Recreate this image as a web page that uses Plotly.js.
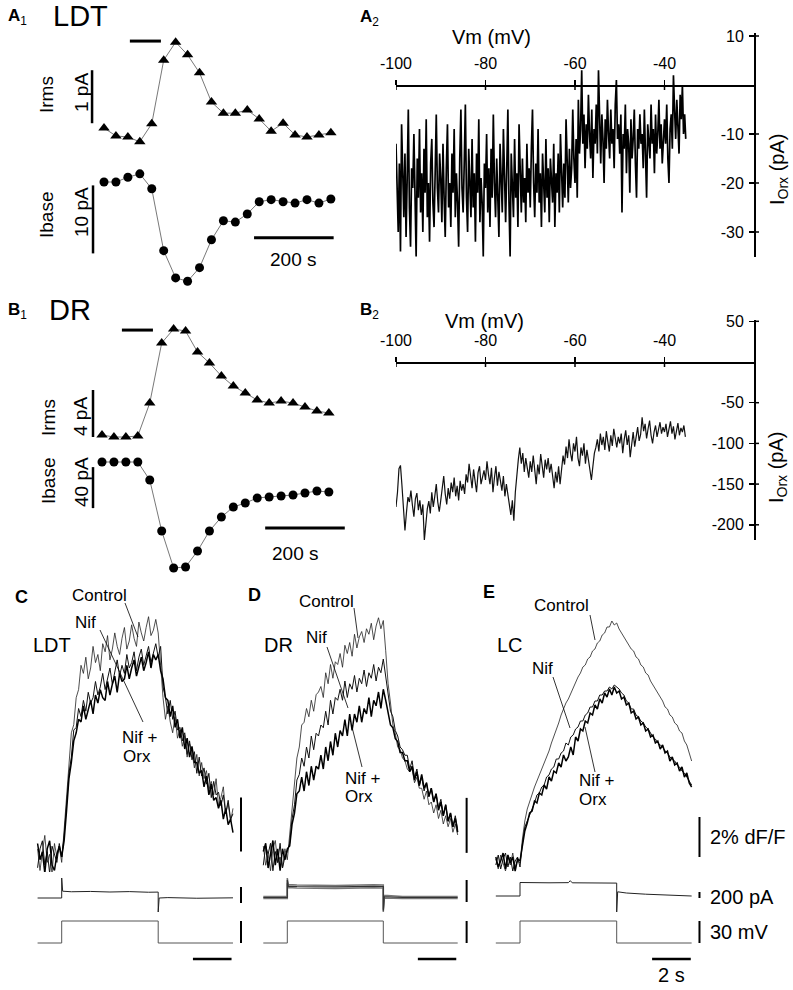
<!DOCTYPE html>
<html><head><meta charset="utf-8">
<script src="https://cdn.plot.ly/plotly-3.0.1.min.js"></script>
<style>html,body{margin:0;padding:0;background:#fff}#fig{width:793px;height:990px}</style>
</head><body><div id="fig"></div>
<script>
// ---------- DATA ----------
// A1 / B1: 30 s bins starting at t = 0 s
const irmsLDT  = [2.17,2.02,2.00,1.91,2.25,3.45,3.79,3.55,3.21,2.66,2.45,2.45,2.51,2.34,2.11,2.26,2.04,2.00,2.04,2.08];
const ibaseLDT = [-20.0,-20.0,-19.3,-18.8,-21.0,-30.1,-34.1,-34.6,-32.6,-28.5,-25.7,-25.9,-24.7,-22.9,-22.6,-22.9,-23.1,-22.6,-23.1,-22.5];
const irmsDR   = [3.17,3.00,3.00,3.09,5.89,11.00,12.19,12.02,10.23,9.30,8.19,7.34,6.74,6.15,5.89,6.06,5.89,5.55,5.21,5.04];
const ibaseDR  = [-50,-50,-50,-50,-67.6,-117.3,-153.4,-152.4,-136.8,-117.3,-103.7,-93.9,-90.0,-85.1,-84.1,-83.2,-82.2,-80.2,-78.3,-79.3];

// A2: I_Orx (pA) during ramp, Vm from -100 mV, 0.25 mV per sample
const a2Iorx = [
-12,-24,-30,-16,-34,-8,-22,-27,-14,-31,-19,-5,-25,-33,-17,-21,-10,-28,-35,-15,
-23,-9,-26,-18,-30,-13,-22,-7,-27,-20,-32,-16,-11,-24,-29,-18,-6,-21,-26,-14,
-19,-28,-12,-23,-31,-17,-8,-25,-20,-29,-14,-22,-9,-27,-18,-24,-33,-15,-5,-21,
-26,-16,-4,-23,-30,-13,-20,-27,-11,-25,-18,-32,-14,-22,-7,-28,-19,-24,-35,-16,
-21,-10,-26,-17,-29,-13,-23,-6,-20,-27,-15,-24,-31,-12,-19,-26,-9,-22,-28,-17,
-5,-24,-35,-14,-20,-27,-11,-23,-18,-29,-8,-21,-26,-15,-24,-19,-28,-12,-22,-17,
-25,-13,-5,-20,-27,-16,-22,-9,-24,-18,-29,-14,-21,-26,-11,-23,-17,-28,-15,-20,
-24,-12,-29,-18,-22,-14,-26,-10,-20,-25,-16,-23,-7,-19,-24,-13,-21,-17,-5,-15,
-20,-11,-23,-3,-14,-9,3,-12,-6,-17,-8,-13,-2,-10,-15,-5,-19,-9,-12,-4,
-14,3,-8,-16,-6,-11,-20,-7,-13,-3,-10,-15,-5,-12,-9,-17,-4,1,-11,-8,
-14,-6,-26,-10,-13,-4,-18,-9,-12,-22,-7,-15,-11,-5,-16,-23,-9,-13,-6,-12,
-10,-17,-5,-13,-23,-8,-11,-15,-4,-12,-9,-18,-6,-14,-10,-3,-13,-8,-16,-11,
-7,-12,-4,-15,-20,-9,-6,-13,2,-5,-11,-3,-8,-14,-2,-7,0,-10,-6,-11];

// B2: I_Orx (pA), Vm from -100 mV, 1/3 mV per sample
const b2Iorx = [
-178,-160,-131,-127,-152,-180,-207,-185,-166,-172,-158,-176,-190,-168,-161,
-182,-170,-188,-175,-219,-196,-180,-171,-186,-160,-178,-165,-150,-172,-184,
-170,-158,-140,-162,-175,-155,-168,-148,-160,-142,-165,-152,-170,-146,-158,
-150,-162,-138,-148,-125,-140,-155,-132,-145,-160,-136,-128,-150,-141,-133,
-145,-122,-138,-150,-130,-160,-142,-128,-152,-135,-146,-158,-140,-165,-150,
-165,-178,-188,-170,-195,-160,-138,-120,-105,-125,-112,-135,-118,-130,-142,
-122,-135,-115,-130,-150,-126,-138,-113,-128,-142,-120,-132,-118,-136,-125,
-140,-155,-135,-148,-128,-150,-132,-115,-126,-104,-118,-95,-112,-122,-100,
-110,-92,-118,-128,-105,-115,-100,-125,-108,-120,-135,-145,-128,-112,-105,
-95,-110,-88,-102,-92,-108,-85,-98,-110,-90,-103,-82,-96,-105,-92,
-100,-88,-112,-95,-84,-102,-90,-117,-98,-86,-104,-93,-80,-97,-89,
-68,-85,-76,-94,-82,-72,-90,-100,-86,-78,-92,-84,-74,-88,-80,
-86,-76,-92,-82,-73,-88,-79,-95,-84,-75,-90,-81,-86,-78,-92];

// C/D/E: dF/F (%), sampled every 0.125 s from t = -1.25 s (step 0..5 s)
const cControl = [0.3,-0.5,0.2,0.8,-0.2,0.1,-0.6,0.5,0.0,0.4, -0.2,1.0,2.4,3.3,4.6,4.9,5.9,6.2,7.1,6.8, 7.4,6.6,7.0,7.8,7.2,7.5,6.9,7.9,7.6,8.2, 7.3,7.7,8.3,7.8,7.5,8.1,8.5,7.7,8.0,8.6, 8.1,7.8,8.7,8.3,8.0,8.5,8.9,8.2,8.4,8.8, 8.3,7.1,5.9,5.1,5.6,5.0,4.6,5.2,4.4,4.7, 4.1,4.5,3.7,4.2,3.9,3.3,3.8,3.0,3.5,2.9, 3.2,2.5,2.8,2.3,2.9,1.9,2.2,2.6,1.6,2.0, 1.3,1.8];
const cNif     = [-0.4,0.3,0.6,-0.3,0.2,-0.6,0.4,0.1,-0.2,0.5, 0.0,0.8,1.9,3.1,3.7,4.7,4.8,5.5,5.2,5.8, 5.4,6.1,5.7,5.9,6.5,6.0,6.3,6.8,6.2,6.6, 7.0,6.4,6.9,7.3,6.7,7.1,6.8,7.5,7.0,7.2, 7.6,6.9,7.4,7.7,7.1,7.5,7.8,7.2,7.6,7.9, 7.4,7.8,6.3,5.9,5.3,5.8,5.1,5.4,4.7,4.8, 4.3,4.6,3.8,4.3,3.6,3.9,3.1,3.7,3.0,3.3, 2.7,3.1,2.2,2.8,2.3,2.4,1.9,2.3,1.6,2.1, 1.4,1.6];
const cNifOrx  = [0.5,-0.1,0.2,-0.6,0.3,0.6,-0.3,-0.5,0.1,0.4, 0.0,0.6,1.7,2.9,3.5,4.3,4.6,5.1,5.0,5.6, 5.1,5.5,5.8,5.3,6.0,5.7,6.2,5.9,5.8,6.5, 6.0,6.4,6.7,6.1,6.8,6.5,6.6,7.1,6.6,7.0, 7.3,6.7,7.1,7.4,6.9,7.2,7.6,7.0,7.5,7.3, 7.5,6.9,6.6,5.9,5.8,5.2,5.6,4.8,5.1,4.4, 4.8,4.0,4.4,3.7,4.1,3.5,3.5,3.1,3.2,2.6, 3.0,2.3,2.7,2.1,2.2,1.8,2.1,1.4,1.8,1.2, 1.4,0.9];
const dControl = [0.4,-0.3,0.1,-0.5,0.3,0.6,-0.2,0.0,-0.4,0.3, -0.1,0.8,1.9,2.6,3.6,4.0,4.8,4.9,5.4,5.1, 5.7,5.3,5.9,6.0,6.2,5.8,6.7,6.3,7.0,6.5, 7.1,7.0,7.4,6.9,7.7,7.4,7.8,7.3,8.1,7.6, 8.0,8.2,7.8,8.3,8.1,8.5,7.9,8.4,8.7,8.3, 8.6,7.5,6.3,5.6,4.8,4.5,4.0,3.9,3.6,3.5, 3.2,3.1,3.2,2.7,2.9,2.5,2.5,2.1,2.4,1.9, 2.0,1.6,1.9,1.4,1.7,1.2,1.5,1.1,1.4,0.9, 1.2,0.8];
const dNif     = [-0.3,0.4,0.1,0.5,-0.5,0.2,-0.2,0.5,-0.4,0.0, 0.2,0.5,1.4,1.9,2.8,3.0,3.6,3.3,4.0,3.6, 4.4,3.9,4.5,4.4,4.8,4.7,5.3,4.8,5.7,5.2, 5.8,5.7,6.1,5.7,6.4,5.8,6.3,6.1,6.6,6.0, 6.5,6.3,6.8,6.2,6.7,6.5,7.0,6.4,6.9,6.7, 7.2,6.5,5.8,5.3,5.1,4.6,4.4,4.0,3.9,3.7, 3.7,3.2,3.5,2.9,3.2,2.6,2.9,2.4,2.7,2.2, 2.5,2.0,2.3,1.8,2.1,1.5,1.9,1.3,1.6,1.1, 1.5,1.0];
const dNifOrx  = [0.2,0.5,-0.4,0.1,0.6,-0.3,0.3,-0.5,0.3,-0.1, 0.3,0.4,1.2,1.6,2.3,2.4,2.9,2.4,3.1,2.6, 3.3,2.8,3.3,3.2,3.7,3.2,4.0,3.5,4.2,3.7, 4.5,4.0,4.6,4.4,5.0,4.4,5.2,4.6,5.2,4.9, 5.5,4.9,5.4,5.2,5.8,5.1,5.7,5.5,6.0,5.4, 6.1,5.7,5.3,4.8,4.7,4.3,4.2,3.8,3.8,3.5, 3.5,3.1,3.3,2.8,3.1,2.6,3.0,2.5,2.7,2.2, 2.5,2.0,2.3,1.7,2.0,1.5,1.9,1.3,1.6,1.1, 1.4,0.9];
const eControl = [0.2,-0.3,0.4,0.0,-0.4,0.3,-0.1,0.5,-0.2,0.1, 0.0,1.2,2.1,2.7,3.1,3.5,3.8,4.1,4.4,4.7, 5.0,5.3,5.6,6.0,6.3,6.7,7.0,7.4,7.7,8.0, 8.2,8.5,8.7,9.0,9.3,9.5,9.8,9.9,10.2,10.3, 10.6,10.7,11.0,11.1,11.4,11.5,11.8,11.8,12.1,11.9, 12.0,11.7,11.5,11.3,11.1,10.9,10.7,10.6,10.3,10.2, 9.9,9.8,9.5,9.4,9.1,8.9,8.7,8.5,8.3,8.1, 7.8,7.7,7.4,7.3,7.0,6.9,6.6,6.5,6.1,5.9, 5.5,5.1];
const eNif     = [-0.1,0.4,-0.3,0.2,0.5,-0.2,0.3,-0.4,0.1,0.3, -0.2,1.0,1.8,2.1,2.4,2.8,3.0,3.4,3.5,3.8, 3.9,4.3,4.4,4.7,4.8,5.2,5.2,5.5,5.6,6.0, 5.9,6.3,6.4,6.7,6.8,7.1,7.1,7.4,7.5,7.8, 7.8,8.1,8.1,8.4,8.4,8.6,8.6,8.8,8.7,8.9, 8.8,8.7,8.5,8.4,8.1,8.0,7.7,7.7,7.4,7.3, 7.1,7.0,6.8,6.7,6.5,6.3,6.2,6.0,5.9,5.8, 5.6,5.5,5.3,5.2,5.1,4.9,4.8,4.6,4.5,4.3, 4.1,3.9];
const eNifOrx  = [0.3,-0.2,0.1,0.5,-0.3,0.4,0.0,0.3,-0.4,0.2, 0.1,0.8,1.6,2.0,2.5,2.6,3.1,3.0,3.5,3.4, 3.9,3.7,4.3,4.1,4.6,4.5,5.0,4.8,5.4,5.1, 5.3,5.8,5.4,6.3,6.1,6.7,6.6,7.1,7.0,7.5, 7.4,7.9,7.7,8.2,8.0,8.5,8.3,8.7,8.4,8.8, 8.5,8.6,8.2,8.3,7.9,8.0,7.5,7.6,7.2,7.3, 6.9,7.0,6.6,6.7,6.3,6.4,6.0,6.1,5.7,5.9, 5.5,5.6,5.1,5.3,4.9,5.0,4.6,4.8,4.3,4.5, 4.0,3.8];

// Holding current (pA) and command voltage (mV)
const cCurT = [-1.25,-0.6,0,0,0.05,0.5,1.5,2.5,3.5,4.5,5,5,5.05,5.5,7,8.875];
const cCurI = [0,3,0,250,85,78,82,75,80,72,74,-175,0,5,-3,2];
const dCurT = [-1.25,0,0,0.05,0.5,2.5,4.5,5,5,5.05,6,8.875];
const dCur1 = [10,10,177,118,114,110,116,114,-132,20,10,10];
const dCur2 = [0,0,160,104,100,96,102,100,-120,8,0,0];
const dCur3 = [-10,-10,130,90,86,82,88,86,-110,-4,-10,-10];
const eCurT = [-1.25,0,0,0.3,1.5,2.5,2.6,2.7,3.5,5,5,5.05,5.5,6.5,8.875];
const eCurI = [0,0,450,445,440,445,510,440,435,430,-533,140,100,60,0];
const stepT = [-1.25,0,0,5,5,8.875];
const stepV = [-70,-70,-40,-40,-70,-70];

// Axis ticks
const vmTicks = [-100,-80,-60,-40];
const vmTickText = ['-100','-80','-60','-40'];
const a2Ticks = [10,-10,-20,-30];
const a2TickText = ['10','-10','-20','-30'];
const b2Ticks = [50,-50,-100,-150,-200];
const b2TickText = ['50','-50','-100','-150','-200'];

// ---------- LAYOUT ----------
const W=793,H=990;
const FONT='Liberation Sans, Arial, Helvetica, sans-serif';
const L={width:W,height:H,margin:{l:0,r:0,t:0,b:0,pad:0},paper_bgcolor:'#fff',plot_bgcolor:'rgba(0,0,0,0)',
  showlegend:false,font:{family:FONT,color:'#000'},annotations:[],shapes:[],hovermode:false};
const xN=n=>n===1?'x':'x'+n, yN=n=>n===1?'y':'y'+n;
const xK=n=>n===1?'xaxis':'xaxis'+n, yK=n=>n===1?'yaxis':'yaxis'+n;
const hidden={visible:false,fixedrange:true,showgrid:false,zeroline:false};
function mkX(n,a,b,ref,val,k,ay,extra){L[xK(n)]=Object.assign({},hidden,{domain:[a/W,b/W],range:[val+(a-ref)/k,val+(b-ref)/k],anchor:yN(ay)},extra||{});}
function mkY(n,top,bot,ref,val,k,ax,extra){L[yK(n)]=Object.assign({},hidden,{domain:[1-bot/H,1-top/H],range:[val-(bot-ref)/k,val+(ref-top)/k],anchor:xN(ax)},extra||{});}
function txt(t,x,y,size,o){L.annotations.push(Object.assign({text:t,xref:'paper',yref:'paper',x:x/W,y:1-y/H,showarrow:false,xanchor:'center',yanchor:'middle',font:{size:size,family:FONT,color:'#000'}},o||{}));}
function pline(x0,y0,x1,y1,w){L.shapes.push({type:'line',xref:'paper',yref:'paper',x0:x0/W,y0:1-y0/H,x1:x1/W,y1:1-y1/H,line:{color:'#000',width:w||0.8}});}
function dline(xa,ya,x0,y0,x1,y1,w){L.shapes.push({type:'line',xref:xN(xa),yref:yN(ya),x0:x0,y0:y0,x1:x1,y1:y1,line:{color:'#000',width:w}});}
function innerXTicks(xa,vals,pyLine){vals.forEach(v=>L.shapes.push({type:'line',xref:xN(xa),yref:'paper',x0:v,x1:v,y0:1-pyLine/H,y1:1-(pyLine+5)/H,line:{color:'#000',width:1.5}}));}
function innerYTicks(ya,vals,pxLine){vals.forEach(v=>L.shapes.push({type:'line',xref:'paper',yref:yN(ya),x0:pxLine/W,x1:(pxLine+5)/W,y0:v,y1:v,line:{color:'#000',width:1.5}}));}

const visAxis={visible:true,showline:true,linecolor:'#000',linewidth:1.5,ticks:'outside',ticklen:5,tickwidth:1.5,tickcolor:'#000',
  tickmode:'array',tickfont:{size:16,family:FONT,color:'#000'},showgrid:false,zeroline:false,fixedrange:true};

mkX(1,60,360,104,0,0.398,1);
mkY(1,25,155,137,2.0,53,1);
mkY(2,155,300,182,-20,6.8,1);
mkX(2,396,754,396,-100,4.475,3,Object.assign({},visAxis,{anchor:'free',position:1-85/H,side:'top',tickvals:vmTicks,ticktext:vmTickText,ticklabelstandoff:5}));
mkY(3,33,257,85,0,4.9,2,Object.assign({},visAxis,{anchor:'free',position:754/W,side:'left',tickvals:a2Ticks,ticktext:a2TickText,ticklabelstandoff:2}));
innerXTicks(2,vmTicks,85); innerYTicks(3,a2Ticks,754);
mkX(3,60,360,102,0,0.398,4);
mkY(4,315,445,437,3.0,11.75,3);
mkY(5,445,580,462,-50,1.025,3);
mkX(4,396,754,396,-100,4.475,6,Object.assign({},visAxis,{anchor:'free',position:1-362/H,side:'top',tickvals:vmTicks,ticktext:vmTickText,ticklabelstandoff:5}));
mkY(6,320,540,362,0,0.814,4,Object.assign({},visAxis,{anchor:'free',position:754/W,side:'left',tickvals:b2Ticks,ticktext:b2TickText,ticklabelstandoff:2}));
innerXTicks(4,vmTicks,362); innerYTicks(6,b2Ticks,754);
mkX(5,30,252,61.7,0,19.3,7);
mkY(7,570,872,857,0,27,5);
mkY(8,866,916,898,0,0.08,5);
mkY(9,912,972,943,-70,0.7333,5);
mkX(6,255,478,287.3,0,19.2,10);
mkY(10,570,872,857,0,27.5,6);
mkY(11,866,916,897.5,0,0.11,6);
mkY(12,912,972,943,-70,0.7333,6);
mkX(7,488,712,520,0,19.34,13);
mkY(13,570,872,863,0,20,7);
mkY(14,866,916,896,0,0.03,7);
mkY(15,912,972,943,-70,0.7333,7);

// ---------- TRACES ----------
const T=[];
const base={hoverinfo:'skip',showlegend:false,cliponaxis:false};
function add(o){T.push(Object.assign({},base,o));}
add({x0:0,dx:30,y:irmsLDT,xaxis:'x',yaxis:'y',mode:'lines+markers',line:{color:'#555',width:0.8},marker:{symbol:'triangle-up',size:10,color:'#000'}});
add({x0:0,dx:30,y:ibaseLDT,xaxis:'x',yaxis:'y2',mode:'lines+markers',line:{color:'#555',width:0.8},marker:{symbol:'circle',size:9,color:'#000'}});
add({x0:0,dx:30,y:irmsDR,xaxis:'x3',yaxis:'y4',mode:'lines+markers',line:{color:'#555',width:0.8},marker:{symbol:'triangle-up',size:10,color:'#000'}});
add({x0:0,dx:30,y:ibaseDR,xaxis:'x3',yaxis:'y5',mode:'lines+markers',line:{color:'#555',width:0.8},marker:{symbol:'circle',size:9,color:'#000'}});
add({x0:-100,dx:0.25,y:a2Iorx,xaxis:'x2',yaxis:'y3',mode:'lines',line:{color:'#000',width:1.7}});
add({x0:-100,dx:1/3,y:b2Iorx,xaxis:'x4',yaxis:'y6',mode:'lines',line:{color:'#111',width:1.2}});
const panels=[[5,7,8,9,cControl,cNif,cNifOrx],[6,10,11,12,dControl,dNif,dNifOrx],[7,13,14,15,eControl,eNif,eNifOrx]];
panels.forEach(p=>{
  add({x0:-1.25,dx:0.125,y:p[4],xaxis:xN(p[0]),yaxis:yN(p[1]),mode:'lines',line:{color:'#222',width:0.8}});
  add({x0:-1.25,dx:0.125,y:p[5],xaxis:xN(p[0]),yaxis:yN(p[1]),mode:'lines',line:{color:'#111',width:1.0}});
  add({x0:-1.25,dx:0.125,y:p[6],xaxis:xN(p[0]),yaxis:yN(p[1]),mode:'lines',line:{color:'#000',width:1.5}});
  add({x:stepT,y:stepV,xaxis:xN(p[0]),yaxis:yN(p[3]),mode:'lines',line:{color:'#555',width:1}});
});
add({x:cCurT,y:cCurI,xaxis:'x5',yaxis:'y8',mode:'lines',line:{color:'#222',width:1}});
add({x:dCurT,y:dCur1,xaxis:'x6',yaxis:'y11',mode:'lines',line:{color:'#777',width:1.5}});
add({x:dCurT,y:dCur3,xaxis:'x6',yaxis:'y11',mode:'lines',line:{color:'#777',width:1.5}});
add({x:dCurT,y:dCur2,xaxis:'x6',yaxis:'y11',mode:'lines',line:{color:'#333',width:1.2}});
add({x:eCurT,y:eCurI,xaxis:'x7',yaxis:'y14',mode:'lines',line:{color:'#222',width:1}});

// ---------- SCALE BARS ----------
dline(1,1,65,3.81,143,3.81,3);
dline(1,1,-30,2.26,-30,3.26,2.5);
dline(1,2,-27.6,-20.5,-27.6,-30.5,2.5);
dline(1,2,377,-28.2,577,-28.2,3);
dline(3,4,50,12.1,128,12.1,3);
dline(3,4,-22.6,3.0,-22.6,7.0,2.5);
dline(3,5,-22.6,-55,-22.6,-95,2.5);
dline(3,5,410,-114.4,610,-114.4,3);
dline(5,7,9.29,0.2,9.29,2.2,2); dline(5,8,9.29,-62,9.29,138,2); dline(5,9,9.29,-70,9.29,-40,2); dline(5,9,6.8,-91.8,8.8,-91.8,2.5);
dline(6,10,9.34,0.15,9.34,2.15,2); dline(6,11,9.34,-41,9.34,159,2); dline(6,12,9.34,-70,9.34,-40,2); dline(6,12,6.8,-91.8,8.8,-91.8,2.5);
dline(7,13,9.28,0.3,9.28,2.3,2); dline(7,14,9.28,-67,9.28,133,2); dline(7,15,9.28,-70,9.28,-40,2); dline(7,15,6.83,-91.8,8.83,-91.8,2.5);

// ---------- TEXT ----------
const rot={textangle:-90};
txt('<b>A</b><sub>1</sub>',6,17,17,{xanchor:'left'});
txt('LDT',80,16,29);
txt('<b>A</b><sub>2</sub>',358,18,17,{xanchor:'left'});
txt('<b>B</b><sub>1</sub>',6,311,17,{xanchor:'left'});
txt('DR',70,310,29);
txt('<b>B</b><sub>2</sub>',358,311,17,{xanchor:'left'});
txt('Irms',47,95,19,rot); txt('1 pA',81,93,19,rot);
txt('Ibase',47,215,19,rot); txt('10 pA',81,212,19,rot);
txt('200 s',293,259,19);
txt('Irms',48,418,19,rot); txt('4 pA',81,417,19,rot);
txt('Ibase',48,481,19,rot); txt('40 pA',81,482,19,rot);
txt('200 s',295,553,19);
txt('Vm (mV)',491,37,20); txt('I<sub>Orx</sub> (pA)',778,170,20,rot);
txt('Vm (mV)',484,321,20); txt('I<sub>Orx</sub> (pA)',778,468,20,rot);
txt('<b>C</b>',21,597,18); txt('<b>D</b>',254,595,18); txt('<b>E</b>',489,592,18);
txt('Control',99,595,17); txt('Nif',85,622,17); txt('LDT',52,645,20);
txt('Nif +',120,737,17,{xanchor:'left'}); txt('Orx',121,756,17,{xanchor:'left'});
pline(125,603,138,637); pline(100,630,143,722);
txt('Control',326,601,17); txt('Nif',316,637,17); txt('DR',278,645,20);
txt('Nif +',343,778,17,{xanchor:'left'}); txt('Orx',343,796,17,{xanchor:'left'});
pline(354,608,358,638); pline(327,647,348,708); pline(362,767,352,727);
txt('Control',561,605,17); txt('Nif',542,668,17); txt('LC',510,645,20);
txt('Nif +',577,780,17,{xanchor:'left'}); txt('Orx',577,799,17,{xanchor:'left'});
pline(590,615,595,640); pline(553,677,570,728); pline(595,772,585,727);
txt('2% dF/F',708,837,20,{xanchor:'left'});
txt('200 pA',708,897,20,{xanchor:'left'});
txt('30 mV',708,932,20,{xanchor:'left'});
txt('2 s',671,975,20);

Plotly.newPlot('fig',T,L,{staticPlot:true,displayModeBar:false});
</script></body></html>
